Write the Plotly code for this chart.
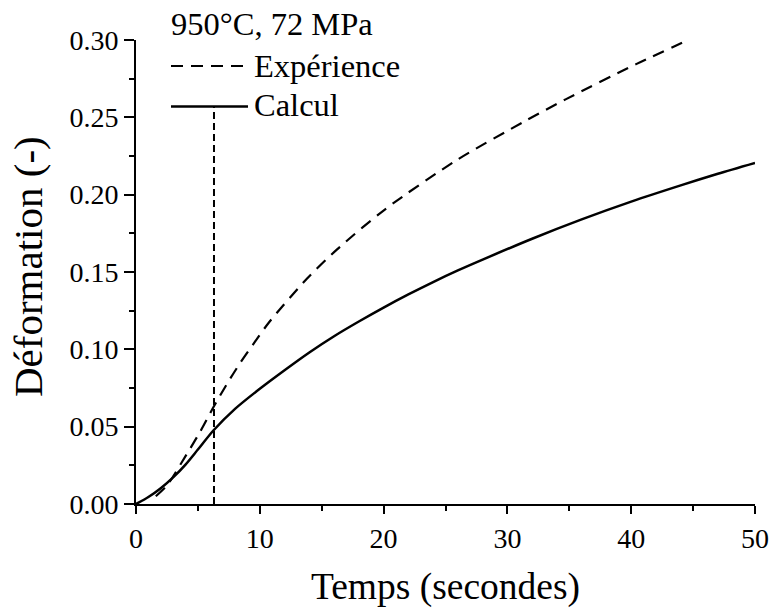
import plotly.graph_objects as go

# ---- data ----
calc_time = [0, 1, 2, 3, 4, 5, 6.25, 8, 10, 12, 14, 16, 18, 20, 22, 24, 26, 28, 32, 36, 40, 44, 47, 50]
calc_strain = [0, 0.0045, 0.0102, 0.0172, 0.0255, 0.0352, 0.0475, 0.0615, 0.0745, 0.0865, 0.098,
               0.1085, 0.118, 0.127, 0.1355, 0.1435, 0.151, 0.158, 0.1715, 0.184, 0.1955, 0.206,
               0.2135, 0.2205]

exp_time = [1.6, 2.5, 3.7, 5.2, 6.25, 7.3, 8.4, 9.6, 10.8, 13.8, 16.2, 20.1, 25.9, 31.3, 34.7, 40.4, 44.6]
exp_strain = [0.005, 0.012, 0.027, 0.047, 0.0625, 0.077, 0.091, 0.1048, 0.118, 0.1456, 0.1643,
              0.1904, 0.2223, 0.247, 0.2616, 0.2844, 0.300]

marker_time = 6.3
x_ticks = [0, 10, 20, 30, 40, 50]
y_ticks = [0.00, 0.05, 0.10, 0.15, 0.20, 0.25, 0.30]

title_text = "950°C, 72 MPa"
label_exp = "Expérience"
label_calc = "Calcul"
x_title = "Temps (secondes)"
y_title = "Déformation (-)"

FONT = "Liberation Serif, Times New Roman, serif"

fig = go.Figure()
fig.add_trace(go.Scatter(x=exp_time, y=exp_strain, mode="lines", name=label_exp,
                         line=dict(color="black", width=2.2, dash="12px,8px", shape="spline", smoothing=0.8),
                         showlegend=False))
fig.add_trace(go.Scatter(x=calc_time, y=calc_strain, mode="lines", name=label_calc,
                         line=dict(color="black", width=2.5, shape="spline", smoothing=0.8),
                         showlegend=False))

# legend drawn manually (paper coordinates)
L, R, T, B = 136, 755, 40, 504
W, H = R - L, B - T
def px(xp):
    return (xp - L) / W
def py(yp):
    return (B - yp) / H

leg_x0, leg_x1 = px(171), px(248)
y_dash, y_solid = py(66), py(106.5)
fig.add_shape(type="line", xref="paper", yref="paper", x0=leg_x0, x1=leg_x1, y0=y_dash, y1=y_dash,
              line=dict(color="black", width=2, dash="12px,8px"))
fig.add_shape(type="line", xref="paper", yref="paper", x0=leg_x0, x1=leg_x1, y0=y_solid, y1=y_solid,
              line=dict(color="black", width=2.5))
# vertical dashed marker from the axis to the legend line
fig.add_shape(type="line", xref="x", yref="paper", x0=marker_time, x1=marker_time, y0=0, y1=y_solid,
              line=dict(color="black", width=2, dash="7px,4px"))

fig.add_annotation(text=title_text, xref="paper", yref="paper", x=px(169), y=py(24),
                   xanchor="left", yanchor="middle", showarrow=False,
                   font=dict(family=FONT, size=32.5, color="black"))
fig.add_annotation(text=label_exp, xref="paper", yref="paper", x=px(252), y=py(66),
                   xanchor="left", yanchor="middle", showarrow=False,
                   font=dict(family=FONT, size=32.5, color="black"))
fig.add_annotation(text=label_calc, xref="paper", yref="paper", x=px(252), y=py(105),
                   xanchor="left", yanchor="middle", showarrow=False,
                   font=dict(family=FONT, size=32.5, color="black"))
# y-axis title as a rotated annotation for exact placement
fig.add_annotation(text=y_title, xref="paper", yref="paper", x=px(28), y=py(266),
                   xanchor="center", yanchor="middle", textangle=-90, showarrow=False,
                   font=dict(family=FONT, size=41, color="black"))

fig.update_layout(
    width=774, height=610,
    margin=dict(l=L, r=774 - R, t=T, b=610 - B),
    paper_bgcolor="white", plot_bgcolor="white",
    font=dict(family=FONT, color="black"),
    showlegend=False,
)
fig.update_xaxes(
    range=[0, 50], tickvals=x_ticks, ticktext=[str(v) for v in x_ticks],
    automargin=False,
    showline=True, linecolor="black", linewidth=2, mirror=False,
    ticks="outside", ticklen=8, tickwidth=2, tickcolor="black",
    minor=dict(dtick=5, tick0=0, ticks="outside", ticklen=5, tickwidth=2, tickcolor="black", showgrid=False),
    showgrid=False, zeroline=False,
    tickfont=dict(family=FONT, size=28, color="black"),
    title=dict(text=x_title, font=dict(family=FONT, size=37.5, color="black"), standoff=20),
)
fig.update_yaxes(
    range=[0, 0.30], tickvals=y_ticks, ticktext=[f"{v:.2f}" for v in y_ticks],
    automargin=False,
    showline=True, linecolor="black", linewidth=2, mirror=False,
    ticks="outside", ticklen=10, tickwidth=2, tickcolor="black",
    minor=dict(dtick=0.025, tick0=0, ticks="outside", ticklen=5, tickwidth=2, tickcolor="black", showgrid=False),
    showgrid=False, zeroline=False,
    tickfont=dict(family=FONT, size=28, color="black"),
)

fig.write_html("out.html")
